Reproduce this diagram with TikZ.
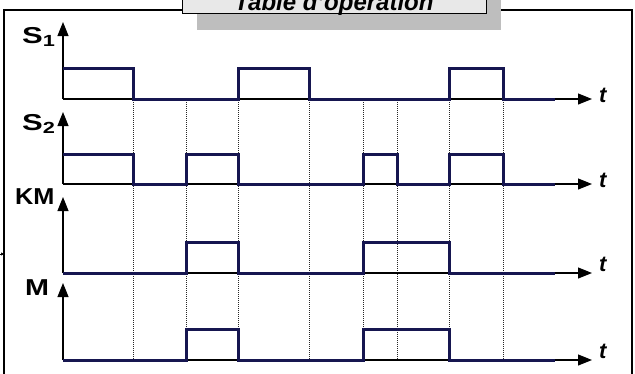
\documentclass[tikz,border=0pt]{standalone}
\usepackage{fontspec}
\setmainfont{Liberation Sans}
\usetikzlibrary{arrows.meta}
\definecolor{sig}{RGB}{22,22,80}
\definecolor{boxfill}{RGB}{232,232,232}
\definecolor{shadow}{RGB}{190,190,190}
\tikzset{
  axisline/.style={line width=1.1pt, -{Triangle[length=14pt,width=11pt]}},
  signal/.style={draw=sig, line width=3pt, line join=miter},
  guide/.style={line width=1pt, black!85, dash pattern=on 1pt off 1pt},
  lab/.style={font=\bfseries\fontsize{23}{23}\selectfont, anchor=base west, inner sep=0pt},
  tlab/.style={font=\bfseries\itshape\fontsize{22}{22}\selectfont, anchor=base west, inner sep=0pt},
  frame/.style={draw=black, line width=1.5pt}
}
\begin{document}
\begin{tikzpicture}[x=1pt,y=-1pt]
\useasboundingbox (0,0) rectangle (635,373);
% outer frame
\draw[frame] (4,10) rectangle (632,390);
% title with shadow
\fill[shadow] (197,-20) rectangle (501,30);
\draw[line width=1pt, fill=boxfill] (182,-20) rectangle (486,13);
\node[font=\bfseries\itshape\fontsize{24}{24}\selectfont, anchor=base, inner sep=0pt] (title) at (334,10) {Table d'opération};
% stray arrow at left edge
\coordinate (s0) at (-3,254);
\coordinate (s1) at (4,254);
\draw[line width=0.6pt, -{Triangle[length=3pt,width=3pt]}] (s0) -- (s1);
% dotted guides
\foreach \x in {133,186,238,309,363,397,449,503}
  \draw[guide] (\x,100) -- (\x,360);
% axes
\foreach \b/\top in {99/22,184/112,273/197,360/283}{
  \coordinate (o\b) at (63,\b);
  \coordinate (v\b) at (63,\top);
  \coordinate (h\b) at (592,\b);
  \draw[axisline] (o\b) -- (v\b);
  \draw[axisline] (o\b) -- (h\b);
}
% signals
\draw[signal] (63,68) -- (133,68) -- (133,99) -- (238,99) -- (238,68) -- (309,68) -- (309,99) -- (449,99) -- (449,68) -- (503,68) -- (503,99) -- (555,99);
\draw[signal] (63,154) -- (133,154) -- (133,184) -- (186,184) -- (186,154) -- (238,154) -- (238,184) -- (363,184) -- (363,154) -- (397,154) -- (397,184) -- (449,184) -- (449,154) -- (503,154) -- (503,184) -- (555,184);
\draw[signal] (63,273) -- (186,273) -- (186,242) -- (238,242) -- (238,273) -- (363,273) -- (363,242) -- (449,242) -- (449,273) -- (555,273);
\draw[signal] (63,360) -- (186,360) -- (186,329) -- (238,329) -- (238,360) -- (363,360) -- (363,329) -- (449,329) -- (449,360) -- (555,360);
% labels
\node[lab] (ls1) at (22,43) {\scalebox{1.35}[1]{S\textsubscript{1}}};
\node[lab] (ls2) at (22,130) {\scalebox{1.35}[1]{S\textsubscript{2}}};
\node[lab] (lkm) at (15,204) {\scalebox{1.1}[1]{KM}};
\node[lab] (lm) at (25,295) {\scalebox{1.25}[1]{M}};
\node[tlab] (t1) at (599,102) {t};
\node[tlab] (t2) at (599,187) {t};
\node[tlab] (t3) at (599,271) {t};
\node[tlab] (t4) at (599,358) {t};
\end{tikzpicture}
\end{document}
